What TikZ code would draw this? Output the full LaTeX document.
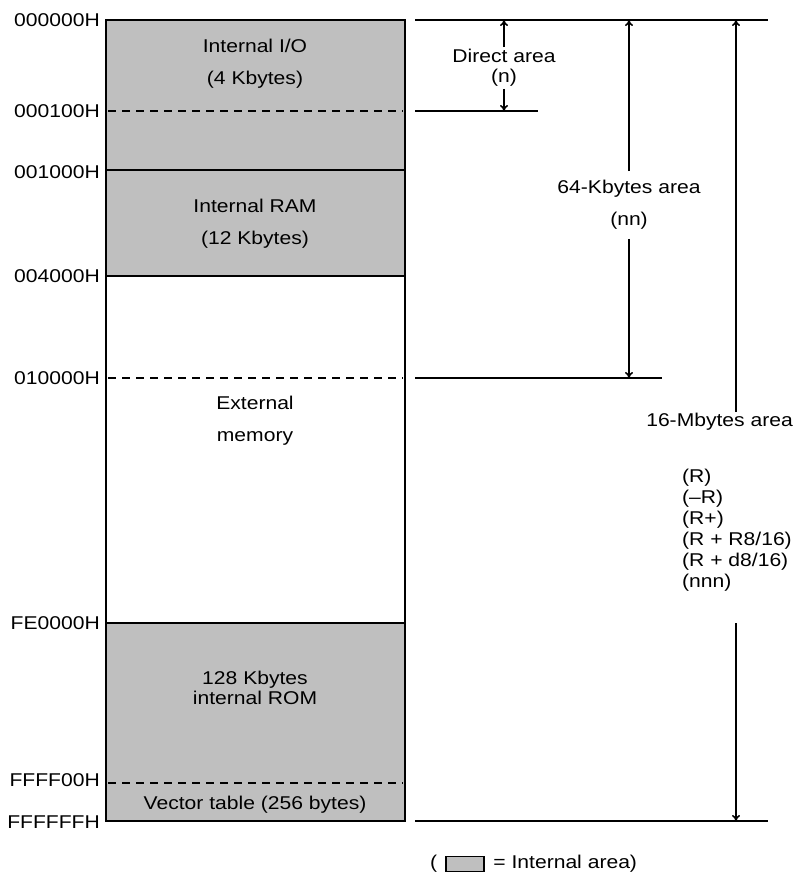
\documentclass[tikz,border=0pt]{standalone}
\usepackage{fontspec}
\setmainfont{Liberation Sans}[FakeStretch=1.14]
\usepackage{tikz}
\usetikzlibrary{positioning,arrows.meta}
\definecolor{memgray}{gray}{0.75}

\tikzset{
  region/.style={line width=2.2pt},
  addr/.style={anchor=east, inner sep=0pt},
  divider/.style={line width=1.8pt, dash pattern=on 8pt off 6pt},
  guide/.style={line width=1.6pt},
  span/.style={line width=1.6pt, -{To[length=6pt,width=8pt]}},
  label/.style={align=center, inner sep=0pt}
}

\begin{document}
\begin{tikzpicture}[x=1pt, y=-1pt, font=\fontsize{18.5}{20}\selectfont]
        \useasboundingbox (0,0) rectangle (794,876);

        % memory map
        \fill[memgray] (106,20) rectangle (405,276);
        \fill[memgray] (106,623) rectangle (405,821);
        \draw[region] (106,20) rectangle (405,821);
        \draw[region] (106,170)--(405,170);
        \draw[region] (106,276)--(405,276);
        \draw[region] (106,623)--(405,623);
        \draw[divider] (108,111)--(403,111);
        \draw[divider] (108,378)--(403,378);
        \draw[divider] (108,783)--(403,783);

        \node[label] (io) at (255,64) {Internal I/O\\[12pt](4 Kbytes)};
        \node[label] (ram) at (255,224) {Internal RAM\\[12pt](12 Kbytes)};
        \node[label] (ext) at (255,421) {External\\[12pt]memory};
        \node[label] (rom) at (255,688) {128 Kbytes\\internal ROM};
        \node[label] (vec) at (255,805) {Vector table (256 bytes)};

        % addresses
        \node[addr] (a0) at (100,20) {000000H};
        \node[addr] (a1) at (100,111) {000100H};
        \node[addr] (a2) at (100,172) {001000H};
        \node[addr] (a3) at (100,276) {004000H};
        \node[addr] (a4) at (100,378) {010000H};
        \node[addr] (a5) at (100,623) {FE0000H};
        \node[addr] (a6) at (100,780) {FFFF00H};
        \node[addr] (a7) at (100,822) {FFFFFFH};

        % area limits
        \coordinate (t0) at (415,20);
        \coordinate (t1) at (768,20);
        \coordinate (d0) at (415,111);
        \coordinate (d1) at (538,111);
        \coordinate (k0) at (415,378);
        \coordinate (k1) at (662,378);
        \coordinate (b0) at (415,821);
        \coordinate (b1) at (768,821);
        \draw[guide] (t0)--(t1);
        \draw[guide] (d0)--(d1);
        \draw[guide] (k0)--(k1);
        \draw[guide] (b0)--(b1);

        % direct area
        \node[label, inner ysep=2pt] (direct) at (504,68) {Direct area\\(n)};
        \coordinate (dtop) at (504,20);
        \coordinate (dbot) at (504,111);
        \draw[span] (direct.north)--(dtop);
        \draw[span] (direct.south)--(dbot);

        % 64-Kbytes area
        \node[label, inner ysep=9pt] (kb) at (629,205) {64-Kbytes area\\[12pt](nn)};
        \coordinate (ktop) at (629,20);
        \coordinate (kbot) at (629,378);
        \draw[span] (kb.north)--(ktop);
        \draw[span] (kb.south)--(kbot);

        % 16-Mbytes area
        \node[anchor=east, inner sep=0pt] (mb) at (793,422) {16-Mbytes area};
        \node[anchor=north west, align=left, inner sep=0pt, font=\fontsize{18.5}{21}\selectfont] (modes) at (682,469)
            {(R)\\(--R)\\(R+)\\(R + R8/16)\\(R + d8/16)\\(nnn)};
        \coordinate (m0) at (736,412);
        \coordinate (m1) at (736,623);
        \coordinate (mtop) at (736,20);
        \coordinate (mbot) at (736,821);
        \draw[span] (m0)--(mtop);
        \draw[span] (m1)--(mbot);

        % legend
        \node[anchor=west, inner sep=0pt] (lp) at (430,864) {(};
        \node[draw, line width=1.8pt, fill=memgray, minimum width=38pt, minimum height=15pt, inner sep=0pt, right=8pt of lp] (lbox) {};
        \node[anchor=west, inner sep=0pt, right=8pt of lbox] (ltext) {= Internal area)};
\end{tikzpicture}
\end{document}
